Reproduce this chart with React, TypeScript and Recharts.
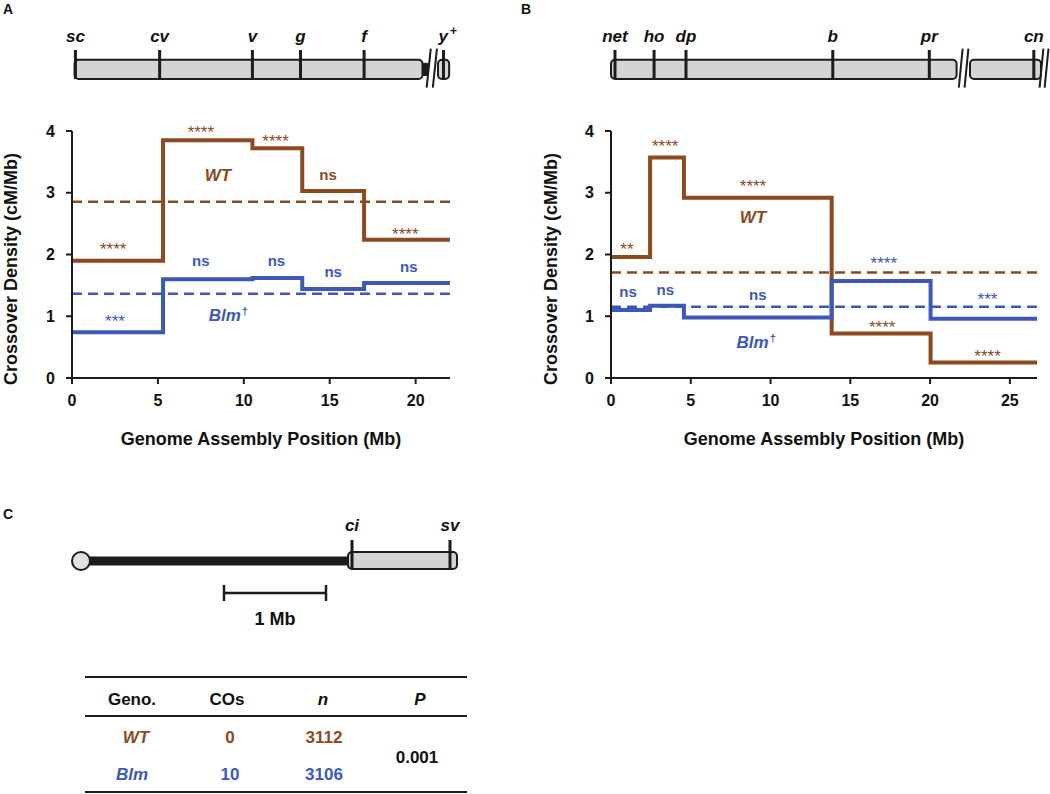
import React from "react";
import {
  LineChart,
  Line,
  XAxis,
  YAxis,
  ReferenceLine,
  ReferenceArea,
  ReferenceDot,
  Label,
} from "recharts";

const BROWN = "#8B4A1F";
const BLUE = "#3D58B8";
const INK = "#1c1c1c";
const GREY = "#d4d4d4";
const FONT = "'Liberation Sans', Arial, Helvetica, sans-serif";

// ---- panel A : X chromosome ----
const edgesA = [0, 5.3, 10.5, 13.4, 17.0, 22];
const wtA = [1.9, 3.85, 3.72, 3.03, 2.24];
const blmA = [0.74, 1.6, 1.62, 1.44, 1.54];
const meanWtA = 2.855;
const meanBlmA = 1.365;
const ticksA = [0, 5, 10, 15, 20];
const markersA = [
  { name: "sc", pos: 0.2 },
  { name: "cv", pos: 5.1 },
  { name: "v", pos: 10.5 },
  { name: "g", pos: 13.3 },
  { name: "f", pos: 17.0 },
  { name: "y+", pos: 21.62 },
];
const annotA = [
  { text: "****", x: 2.4, y: 2.15, g: "wt" },
  { text: "****", x: 7.5, y: 4.05, g: "wt" },
  { text: "****", x: 11.85, y: 3.9, g: "wt" },
  { text: "ns", x: 14.9, y: 3.28, g: "wt" },
  { text: "****", x: 19.4, y: 2.4, g: "wt" },
  { text: "WT", x: 8.5, y: 3.28, g: "wt" },
  { text: "***", x: 2.5, y: 0.99, g: "blm" },
  { text: "ns", x: 7.5, y: 1.89, g: "blm" },
  { text: "ns", x: 11.9, y: 1.89, g: "blm" },
  { text: "ns", x: 15.2, y: 1.71, g: "blm" },
  { text: "ns", x: 19.6, y: 1.79, g: "blm" },
  { text: "Blm†", x: 9.1, y: 1.02, g: "blm" },
];

// ---- panel B : chromosome 2 ----
const edgesB = [0, 2.45, 4.57, 13.83, 20.03, 26.7];
const wtB = [1.96, 3.57, 2.92, 0.72, 0.25];
const blmB = [1.1, 1.17, 0.98, 1.57, 0.96];
const meanWtB = 1.71;
const meanBlmB = 1.155;
const ticksB = [0, 5, 10, 15, 20, 25];
const markersB = [
  { name: "net", pos: 0.25 },
  { name: "ho", pos: 2.7 },
  { name: "dp", pos: 4.7 },
  { name: "b", pos: 13.9 },
  { name: "pr", pos: 19.95 },
  { name: "cn", pos: 26.5 },
];
const annotB = [
  { text: "**", x: 1.0, y: 2.16, g: "wt" },
  { text: "****", x: 3.4, y: 3.82, g: "wt" },
  { text: "****", x: 8.9, y: 3.17, g: "wt" },
  { text: "WT", x: 8.9, y: 2.6, g: "wt" },
  { text: "****", x: 17.0, y: 0.89, g: "wt" },
  { text: "****", x: 23.6, y: 0.42, g: "wt" },
  { text: "ns", x: 1.07, y: 1.385, g: "blm" },
  { text: "ns", x: 3.4, y: 1.43, g: "blm" },
  { text: "ns", x: 9.2, y: 1.34, g: "blm" },
  { text: "****", x: 17.1, y: 1.92, g: "blm" },
  { text: "***", x: 23.6, y: 1.35, g: "blm" },
  { text: "Blm†", x: 9.1, y: 0.59, g: "blm" },
];

// chromosome outlines (Mb)
const armsA = [[0.15, 20.4], [21.3, 21.95]];
const knobsA = [[20.4, 20.72]];
const breaksA = [20.76, 21.12];
const armsB = [[0.0, 21.66], [22.5, 26.95]];
const knobsB: number[][] = [];
const breaksB = [21.92, 22.28, 26.98, 27.3];

// ---- panel C table ----
const tableHeader = ["Geno.", "COs", "n", "P"];
const tableRows = [
  { geno: "WT", cos: 0, n: 3112 },
  { geno: "Blm", cos: 10, n: 3106 },
];
const pValue = "0.001";

const stepRows = (edges: number[], wt: number[], blm: number[]) =>
  edges.map((x, i) => {
    const k = Math.min(i, wt.length - 1);
    return { x, wt: wt[k], blm: blm[k] };
  });

const colorOf = (g: string) => (g === "wt" ? BROWN : BLUE);

function annotShape(a: any) {
  return (p: any) => {
    const color = colorOf(a.g);
    if (a.text.startsWith("*")) {
      return (
        <text x={p.cx} y={p.cy + 10} textAnchor="middle" fontFamily={FONT} fontSize={17} fill={color}>
          {a.text}
        </text>
      );
    }
    if (a.text === "ns") {
      return (
        <text x={p.cx} y={p.cy + 5} textAnchor="middle" fontFamily={FONT} fontWeight="bold" fontSize={15} fill={color}>
          ns
        </text>
      );
    }
    const dagger = a.text.endsWith("†");
    return (
      <text x={p.cx} y={p.cy + 6} textAnchor="middle" fontFamily={FONT} fontWeight="bold" fontStyle="italic" fontSize={17} fill={color}>
        {dagger ? a.text.slice(0, -1) : a.text}
        {dagger && (
          <tspan dx={1} dy={-6} fontSize={11} fontStyle="normal">
            †
          </tspan>
        )}
      </text>
    );
  };
}

function markerLabel(name: string) {
  return (p: any) => {
    const vb = p.viewBox || { x: 0, y: 0 };
    const sup = name.endsWith("+");
    return (
      <text
        x={sup ? vb.x - 5 : vb.x}
        y={vb.y - 8}
        textAnchor={sup ? "start" : "middle"}
        fontFamily={FONT}
        fontWeight="bold"
        fontStyle="italic"
        fontSize={17}
        fill="#111"
      >
        {sup ? name.slice(0, -1) : name}
        {sup && (
          <tspan dx={2} dy={-7} fontSize={12} fontStyle="normal">
            +
          </tspan>
        )}
      </text>
    );
  };
}

function Chromosome(props: any) {
  const { left, width, mLeft, mRight, domain, arms, knobs, breaks, markers } = props;
  return (
    <div style={{ position: "absolute", left, top: 0 }}>
      <LineChart width={width} height={96} data={markers} margin={{ top: 50, right: mRight, left: mLeft, bottom: 17 }}>
        <XAxis type="number" dataKey="pos" domain={domain} hide allowDataOverflow />
        <YAxis type="number" domain={[0, 1]} hide allowDataOverflow />
        {arms.map(([a, b]: number[], i: number) => (
          <ReferenceArea
            key={"arm" + i}
            x1={a}
            x2={b}
            y1={0}
            y2={0.66}
            ifOverflow="visible"
            shape={(s: any) => (
              <rect x={s.x} y={s.y} width={s.width} height={s.height} rx={4} fill={GREY} stroke={INK} strokeWidth={2} />
            )}
          />
        ))}
        {knobs.map(([a, b]: number[], i: number) => (
          <ReferenceArea key={"knob" + i} x1={a} x2={b} y1={0.12} y2={0.54} ifOverflow="visible" fill={INK} fillOpacity={1} stroke={INK} />
        ))}
        {breaks.map((c: number, i: number) => (
          <ReferenceLine
            key={"brk" + i}
            segment={[
              { x: c + 0.12, y: 1.05 },
              { x: c - 0.12, y: -0.3 },
            ]}
            ifOverflow="visible"
            stroke={INK}
            strokeWidth={2}
          />
        ))}
        {markers.map((m: any) => (
          <ReferenceLine key={m.name} x={m.pos} ifOverflow="visible" stroke={INK} strokeWidth={3} label={markerLabel(m.name)} />
        ))}
      </LineChart>
    </div>
  );
}

function DensityChart(props: any) {
  const { left, width, yw, mRight, domain, ticks, edges, wt, blm, meanWt, meanBlm, annots, yLabelX, yLabelY } = props;
  const rows = stepRows(edges, wt, blm);
  return (
    <div style={{ position: "absolute", left, top: 100 }}>
      <LineChart width={width} height={380} data={rows} margin={{ top: 31, right: mRight, left: 0, bottom: 32 }}>
        <XAxis
          type="number"
          dataKey="x"
          domain={domain}
          ticks={ticks}
          height={70}
          tickSize={6}
          tickMargin={11}
          axisLine={{ stroke: INK, strokeWidth: 2 }}
          tickLine={{ stroke: INK, strokeWidth: 2 }}
          tick={{ fill: "#111", fontSize: 16, fontWeight: "bold", fontFamily: FONT }}
        >
          <Label
            content={(p: any) => {
              const vb = p.viewBox;
              return (
                <text x={vb.x + vb.width / 2} y={vb.y + 67} textAnchor="middle" fontFamily={FONT} fontWeight="bold" fontSize={18} fill="#111">
                  Genome Assembly Position (Mb)
                </text>
              );
            }}
          />
        </XAxis>
        <YAxis
          type="number"
          domain={[0, 4]}
          ticks={[0, 1, 2, 3, 4]}
          width={yw}
          tickSize={6}
          tickMargin={11}
          axisLine={{ stroke: INK, strokeWidth: 2 }}
          tickLine={{ stroke: INK, strokeWidth: 2 }}
          tick={{ fill: "#111", fontSize: 16, fontWeight: "bold", fontFamily: FONT }}
        >
          <Label
            content={() => (
              <text
                x={yLabelX}
                y={yLabelY}
                transform={`rotate(-90 ${yLabelX} ${yLabelY})`}
                textAnchor="middle"
                fontFamily={FONT}
                fontWeight="bold"
                fontSize={18}
                fill="#111"
              >
                Crossover Density (cM/Mb)
              </text>
            )}
          />
        </YAxis>
        <ReferenceLine y={meanWt} stroke={BROWN} strokeWidth={2.5} strokeDasharray="10 6" />
        <ReferenceLine y={meanBlm} stroke={BLUE} strokeWidth={2.5} strokeDasharray="10 6" />
        <Line type="stepAfter" dataKey="wt" stroke={BROWN} strokeWidth={4} dot={false} isAnimationActive={false} />
        <Line type="stepAfter" dataKey="blm" stroke={BLUE} strokeWidth={4} dot={false} isAnimationActive={false} />
        {annots.map((a: any, i: number) => (
          <ReferenceDot key={i} x={a.x} y={a.y} r={0} ifOverflow="visible" shape={annotShape(a)} />
        ))}
      </LineChart>
    </div>
  );
}

function PanelC() {
  const colX = [132, 227, 323, 420];
  return (
    <svg width={1050} height={794} style={{ position: "absolute", left: 0, top: 0 }} fontFamily={FONT}>
      <text x={3} y={14} fontSize={14} fontWeight="bold" fill="#111">A</text>
      <text x={521} y={14} fontSize={14} fontWeight="bold" fill="#111">B</text>
      <text x={3} y={519} fontSize={14} fontWeight="bold" fill="#111">C</text>

      {/* chromosome 4 */}
      <line x1={86} y1={561} x2={350} y2={561} stroke={INK} strokeWidth={9} />
      <circle cx={81} cy={561} r={9} fill="#e2e2e2" stroke={INK} strokeWidth={2} />
      <rect x={348} y={552} width={109} height={17} rx={4} fill={GREY} stroke={INK} strokeWidth={2} />
      <line x1={352} y1={540} x2={352} y2={569} stroke={INK} strokeWidth={3} />
      <line x1={450} y1={540} x2={450} y2={569} stroke={INK} strokeWidth={3} />
      <text x={352} y={531} textAnchor="middle" fontSize={17} fontWeight="bold" fontStyle="italic" fill="#111">ci</text>
      <text x={450} y={531} textAnchor="middle" fontSize={17} fontWeight="bold" fontStyle="italic" fill="#111">sv</text>
      <line x1={224} y1={593} x2={326} y2={593} stroke={INK} strokeWidth={2.5} />
      <line x1={224} y1={585} x2={224} y2={601} stroke={INK} strokeWidth={2.5} />
      <line x1={326} y1={585} x2={326} y2={601} stroke={INK} strokeWidth={2.5} />
      <text x={275} y={625} textAnchor="middle" fontSize={18} fontWeight="bold" fill="#111">1 Mb</text>

      {/* table */}
      {[677, 716, 792].map((y) => (
        <line key={y} x1={85} y1={y} x2={467} y2={y} stroke={INK} strokeWidth={2} />
      ))}
      {tableHeader.map((h, i) => (
        <text key={h} x={colX[i]} y={705} textAnchor="middle" fontSize={17} fontWeight="bold" fontStyle={i >= 2 ? "italic" : "normal"} fill="#111">
          {h}
        </text>
      ))}
      {tableRows.map((r, i) => {
        const y = 743 + i * 37;
        const c = i === 0 ? BROWN : BLUE;
        return (
          <g key={r.geno} fontSize={17} fontWeight="bold" fill={c}>
            <text x={colX[0] + (i === 0 ? 4 : 0)} y={y} textAnchor="middle" fontStyle="italic">{r.geno}</text>
            <text x={colX[1] + 3} y={y} textAnchor="middle">{r.cos}</text>
            <text x={colX[2] + 1} y={y} textAnchor="middle">{r.n}</text>
          </g>
        );
      })}
      <text x={417} y={763} textAnchor="middle" fontSize={17} fontWeight="bold" fill="#111">{pValue}</text>
    </svg>
  );
}

export default function App() {
  return (
    <div style={{ position: "absolute", left: 0, top: 0, width: 1050, height: 794, background: "#fff" }}>
      <PanelC />
      <Chromosome left={0} width={470} mLeft={72} mRight={20} domain={[0, 22]} arms={armsA} knobs={knobsA} breaks={breaksA} markers={markersA} />
      <Chromosome left={540} width={510} mLeft={71} mRight={13} domain={[0, 26.7]} arms={armsB} knobs={knobsB} breaks={breaksB} markers={markersB} />
      <DensityChart
        left={0}
        width={470}
        yw={72}
        mRight={20}
        domain={[0, 22]}
        ticks={ticksA}
        edges={edgesA}
        wt={wtA}
        blm={blmA}
        meanWt={meanWtA}
        meanBlm={meanBlmA}
        annots={annotA}
        yLabelX={17}
        yLabelY={169}
      />
      <DensityChart
        left={540}
        width={510}
        yw={71}
        mRight={13}
        domain={[0, 26.7]}
        ticks={ticksB}
        edges={edgesB}
        wt={wtB}
        blm={blmB}
        meanWt={meanWtB}
        meanBlm={meanBlmB}
        annots={annotB}
        yLabelX={17}
        yLabelY={169}
      />
    </div>
  );
}
